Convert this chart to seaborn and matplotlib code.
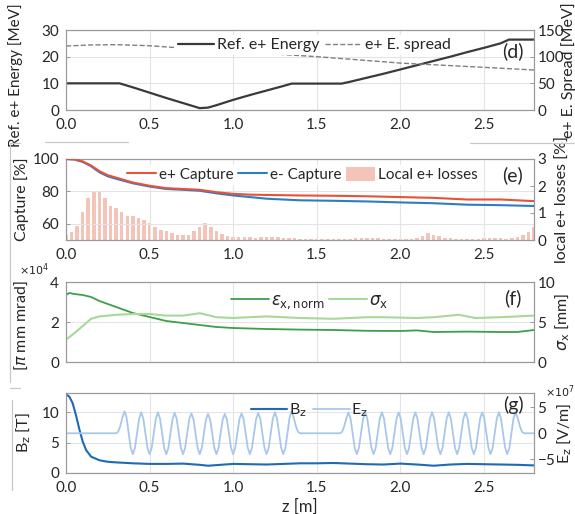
import matplotlib
matplotlib.use("Agg")
import matplotlib.pyplot as plt
from matplotlib.lines import Line2D
from matplotlib.patches import Rectangle, Patch
import seaborn as sns

# ---- (d) reference energy and energy spread ----
energy_z = [0, 0.32, 0.4, 0.5, 0.6, 0.7, 0.8, 0.85, 0.9, 1.0, 1.1, 1.2, 1.3, 1.35,
            1.65, 1.7, 1.8, 1.9, 2.0, 2.1, 2.2, 2.3, 2.4, 2.5, 2.6, 2.65, 2.8]
energy_mev = [10, 10, 8.5, 6.5, 4.5, 2.6, 0.7, 0.9, 1.8, 3.8, 5.6, 7.3, 9.0, 9.9,
              9.9, 10.6, 12.1, 13.6, 15.2, 16.8, 18.4, 20.0, 21.7, 23.3, 25.0, 26.4, 26.4]
spread_z = [0, 0.15, 0.3, 0.5, 0.75, 1.0, 1.25, 1.5, 1.75, 2.0, 2.25, 2.5, 2.8]
spread_mev = [120, 122, 122.5, 120.5, 115, 110, 105, 100, 94, 88, 84, 80, 75]

# ---- (e) capture and local losses ----
capture_z = [0, 0.05, 0.1, 0.15, 0.2, 0.25, 0.3, 0.4, 0.5, 0.6, 0.7, 0.8, 0.9, 1.0,
             1.1, 1.2, 1.4, 1.6, 1.8, 2.0, 2.2, 2.4, 2.6, 2.8]
pos_capture = [100, 99.8, 98.5, 96, 92.5, 90, 88.5, 85.5, 83.5, 82, 81.5, 81, 79.5, 78.5,
               78, 77.8, 77.5, 77.3, 77, 76.5, 76, 75, 75, 74]
ele_capture = [100, 99.7, 98.2, 95.5, 91.8, 89.3, 87.8, 85, 83, 81.5, 81, 80.4, 78.8, 77.5,
               76.5, 75.5, 74.5, 74.2, 73.8, 73.2, 72.7, 71.8, 71.5, 71]
loss_z = [0.000, 0.033, 0.067, 0.100, 0.133, 0.167, 0.200, 0.233, 0.267, 0.300,
          0.333, 0.367, 0.400, 0.433, 0.467, 0.500, 0.533, 0.567, 0.600, 0.633,
          0.667, 0.700, 0.733, 0.767, 0.800, 0.833, 0.867, 0.900, 0.933, 0.967,
          1.000, 1.033, 1.067, 1.100, 1.133, 1.167, 1.200, 1.233, 1.267, 1.300,
          1.333, 1.367, 1.400, 1.433, 1.467, 1.500, 1.533, 1.567, 1.600, 1.633,
          1.667, 1.700, 1.733, 1.767, 1.800, 1.833, 1.867, 1.900, 1.933, 1.967,
          2.000, 2.033, 2.067, 2.100, 2.133, 2.167, 2.200, 2.233, 2.267, 2.300,
          2.333, 2.367, 2.400, 2.433, 2.467, 2.500, 2.533, 2.567, 2.600, 2.633,
          2.667, 2.700, 2.733, 2.767, 2.800]
loss_pct = [0.17, 0.30, 0.53, 1.03, 1.54, 1.82, 1.78, 1.55, 1.26, 1.20,
            1.02, 0.90, 0.90, 0.80, 0.74, 0.62, 0.49, 0.38, 0.34, 0.26,
            0.17, 0.17, 0.17, 0.32, 0.48, 0.62, 0.50, 0.34, 0.22, 0.14,
            0.11, 0.10, 0.10, 0.10, 0.08, 0.12, 0.10, 0.12, 0.10, 0.08,
            0.07, 0.06, 0.05, 0.04, 0.04, 0.03, 0.03, 0.02, 0.02, 0.02,
            0.02, 0.04, 0.06, 0.08, 0.08, 0.07, 0.06, 0.05, 0.04, 0.04,
            0.03, 0.03, 0.03, 0.08, 0.15, 0.26, 0.20, 0.14, 0.08, 0.06,
            0.04, 0.04, 0.03, 0.04, 0.05, 0.06, 0.08, 0.08, 0.06, 0.05,
            0.06, 0.10, 0.18, 0.30, 0.48]

# ---- (f) emittance and beam size ----
emit_z = [0, 0.02, 0.05, 0.1, 0.15, 0.2, 0.25, 0.3, 0.4, 0.5, 0.6, 0.7, 0.8, 0.9,
          1.0, 1.2, 1.4, 1.6, 1.8, 2.0, 2.1, 2.2, 2.4, 2.6, 2.7, 2.8]
emit_1e4 = [3.35, 3.45, 3.4, 3.35, 3.25, 3.05, 2.9, 2.75, 2.45, 2.25, 2.05, 1.95, 1.85, 1.75,
            1.7, 1.65, 1.62, 1.6, 1.56, 1.55, 1.58, 1.5, 1.52, 1.5, 1.5, 1.6]
sigma_z = [0, 0.05, 0.1, 0.15, 0.2, 0.3, 0.4, 0.5, 0.6, 0.7, 0.8, 0.9, 1.0, 1.1, 1.2,
           1.4, 1.6, 1.8, 1.9, 2.1, 2.2, 2.35, 2.45, 2.6, 2.8]
sigma_mm = [2.8, 3.6, 4.5, 5.4, 5.7, 5.9, 6.0, 6.0, 5.8, 5.8, 6.1, 5.6, 5.5, 5.6, 5.7,
            5.5, 5.4, 5.6, 5.6, 5.5, 5.6, 5.9, 5.5, 5.6, 5.8]

# ---- (g) solenoid field and RF field ----
bz_z = [0, 0.02, 0.04, 0.06, 0.08, 0.10, 0.12, 0.15, 0.2, 0.25, 0.3, 0.4, 0.5, 0.6,
        0.7, 0.8, 0.85, 0.9, 1.0, 1.1, 1.2, 1.3, 1.4, 1.5, 1.6, 1.7, 1.8, 1.9, 2.0,
        2.1, 2.2, 2.3, 2.4, 2.5, 2.6, 2.7, 2.8]
bz_t = [13.0, 12.6, 11.5, 9.5, 7.2, 5.2, 3.8, 2.7, 2.1, 1.85, 1.75, 1.6, 1.5, 1.5,
        1.55, 1.35, 1.2, 1.3, 1.5, 1.45, 1.4, 1.5, 1.6, 1.6, 1.65, 1.55, 1.45, 1.4,
        1.55, 1.4, 1.2, 1.4, 1.5, 1.45, 1.4, 1.35, 1.25]
ez_z = [0.0,
        0.3000, 0.3125, 0.3250, 0.3375, 0.3500, 0.3625, 0.3750, 0.3875,
        0.4000, 0.4125, 0.4250, 0.4375, 0.4500, 0.4625, 0.4750, 0.4875,
        0.5000, 0.5125, 0.5250, 0.5375, 0.5500, 0.5625, 0.5750, 0.5875,
        0.6000, 0.6125, 0.6250, 0.6375, 0.6500, 0.6625, 0.6750, 0.6875,
        0.7000, 0.7125, 0.7250, 0.7375, 0.7500, 0.7625, 0.7750, 0.7875,
        0.8000, 0.8125, 0.8250, 0.8375, 0.8500, 0.8625, 0.8750, 0.8875,
        0.9000, 0.9125, 0.9250, 0.9375, 0.9500, 0.9625, 0.9750, 0.9875,
        1.0000, 1.0125, 1.0250, 1.0375, 1.0500, 1.0625, 1.0750, 1.0875,
        1.1000, 1.1125, 1.1250, 1.1375, 1.1500, 1.1625, 1.1750, 1.1875,
        1.2000, 1.2125, 1.2250, 1.2375, 1.2500, 1.2625, 1.2750, 1.2875,
        1.3000, 1.3125, 1.3250, 1.3375, 1.3500, 1.3625, 1.3750, 1.3875,
        1.4000,
        1.6400, 1.6525, 1.6650, 1.6775, 1.6900, 1.7025, 1.7150, 1.7275,
        1.7400, 1.7525, 1.7650, 1.7775, 1.7900, 1.8025, 1.8150, 1.8275,
        1.8400, 1.8525, 1.8650, 1.8775, 1.8900, 1.9025, 1.9150, 1.9275,
        1.9400, 1.9525, 1.9650, 1.9775, 1.9900, 2.0025, 2.0150, 2.0275,
        2.0400, 2.0525, 2.0650, 2.0775, 2.0900, 2.1025, 2.1150, 2.1275,
        2.1400, 2.1525, 2.1650, 2.1775, 2.1900, 2.2025, 2.2150, 2.2275,
        2.2400, 2.2525, 2.2650, 2.2775, 2.2900, 2.3025, 2.3150, 2.3275,
        2.3400, 2.3525, 2.3650, 2.3775, 2.3900, 2.4025, 2.4150, 2.4275,
        2.4400, 2.4525, 2.4650, 2.4775, 2.4900, 2.5025, 2.5150, 2.5275,
        2.5400, 2.5525, 2.5650, 2.5775, 2.5900, 2.6025, 2.6150, 2.6275,
        2.6400, 2.6525, 2.6650, 2.6775, 2.6900, 2.7025, 2.7150, 2.7275,
        2.7400,
        2.8]
ez_1e7 = [0.0,
          0, 0.3, 1.4, 3.0, 4.2, 3.0, 0, -2.8,
          -4.0, -2.8, 0, 2.8, 4.0, 2.8, 0, -2.8,
          -4.0, -2.8, 0, 2.8, 4.0, 2.8, 0, -2.8,
          -4.0, -2.8, 0, 2.75, 3.9, 2.75, 0, -2.8,
          -4.0, -2.8, 0, 2.7, 3.8, 2.7, 0, -2.8,
          -4.0, -2.8, 0, 2.6, 3.7, 2.6, 0, -2.8,
          -4.0, -2.8, 0, 2.6, 3.7, 2.6, 0, -2.8,
          -4.0, -2.8, 0, 2.7, 3.8, 2.7, 0, -2.8,
          -4.0, -2.8, 0, 2.75, 3.9, 2.75, 0, -2.8,
          -4.0, -2.8, 0, 2.8, 4.0, 2.8, 0, -2.8,
          -4.0, -2.8, 0, 3.0, 4.2, 3.0, 1.4, 0.3,
          0,
          0, 0.3, 1.4, 2.9, 4.0, 2.8, 0, -2.8,
          -4.0, -2.8, 0, 2.8, 4.0, 2.8, 0, -2.8,
          -4.0, -2.8, 0, 2.8, 4.0, 2.8, 0, -2.8,
          -4.0, -2.8, 0, 2.8, 4.0, 2.8, 0, -2.8,
          -4.0, -2.8, 0, 2.8, 4.0, 2.8, 0, -2.8,
          -4.0, -2.8, 0, 2.8, 4.0, 2.8, 0, -2.8,
          -4.0, -2.8, 0, 2.8, 4.0, 2.8, 0, -2.8,
          -4.0, -2.8, 0, 2.8, 4.0, 2.8, 0, -2.8,
          -4.0, -2.8, 0, 2.8, 4.0, 2.8, 0, -2.8,
          -4.0, -2.8, 0, 2.8, 4.0, 2.8, 0, -2.8,
          -4.0, -2.8, 0, 2.9, 4.0, 2.9, 1.4, 0.3,
          0,
          0.0]

x_ticks = [0, 0.5, 1, 1.5, 2, 2.5]

sns.set_theme(style="whitegrid")
plt.rcParams['font.family'] = ['Lato', 'DejaVu Sans']
plt.rcParams['mathtext.fontset'] = 'dejavusans'

TXT = '#262626'
SPINE = '#9a9a9a'
GRID = '#e4e4e4'

W, H = 575, 514
AX_L, AX_R = 66, 534
fig = plt.figure(figsize=(W / 100, H / 100), dpi=100)
fig.patch.set_facecolor('white')


def px_x(x):
    # figure pixel column -> axes fraction
    return (x - AX_L) / (AX_R - AX_L)


def make_axes(top_px, bottom_px):
    ax = fig.add_axes([AX_L / W, 1 - bottom_px / H, (AX_R - AX_L) / W, (bottom_px - top_px) / H])
    ax2 = ax.twinx()
    ax.set_xlim(0, 2.8)
    ax.set_xticks(x_ticks)
    ax.grid(True, color=GRID, linewidth=0.8)
    ax2.grid(False)
    for a in (ax, ax2):
        a.set_facecolor('none')
        for s in a.spines.values():
            s.set_color(SPINE)
            s.set_linewidth(0.8)
        a.tick_params(direction='in', length=3, width=0.7, color=SPINE,
                      labelsize=11, labelcolor=TXT)
    ax.tick_params(axis='x', pad=6)
    ax.tick_params(axis='y', pad=5)
    ax2.tick_params(axis='y', pad=2.5)
    ax.set_facecolor('white')
    return ax, ax2


def set_labels(ax, ax2, left, right, lx, rx, ly=0.5, size=11.5, lsize=None):
    ax.set_ylabel(left, fontsize=lsize or size, color=TXT, va='center')
    ax.yaxis.set_label_coords(px_x(lx), ly)
    ax2.set_ylabel(right, fontsize=size, color=TXT, rotation=90, va='center')
    ax2.yaxis.set_label_coords(px_x(rx), 0.5)


def panel_tag(ax, text, y):
    ax.text(0.955, y, text, transform=ax.transAxes, fontsize=14, color=TXT,
            ha='center', va='center', zorder=10)


# (d)
ax, ax2 = make_axes(30, 110)
sns.lineplot(x=energy_z, y=energy_mev, ax=ax, color='#3a3a3a', linewidth=1.6, sort=False)
sns.lineplot(x=spread_z, y=spread_mev, ax=ax2, color='#808080', linewidth=1.0, linestyle='--')
ax.set_ylim(0, 30)
ax.set_yticks([0, 10, 20, 30])
ax2.set_ylim(0, 150)
ax2.set_yticks([0, 50, 100, 150])
set_labels(ax, ax2, 'Ref. e+ Energy [MeV]', 'e+ E. Spread [MeV]', 16, 569, ly=0.44, lsize=11)
h = [Line2D([], [], color='#3a3a3a', lw=1.6), Line2D([], [], color='#808080', lw=1.0, ls='--')]
ax2.legend(h, ['Ref. e+ Energy', 'e+ E. spread'], loc='upper center', bbox_to_anchor=(0.53, 1.04),
           ncol=2, fontsize=11.5, frameon=True, facecolor='white', edgecolor='none', framealpha=1,
           handlelength=2.3, handletextpad=0.2, columnspacing=0.3, borderpad=0.2)
panel_tag(ax2, '(d)', 0.74)

# (e)
ax, ax2 = make_axes(159, 240)
ax2.bar(loss_z, loss_pct, width=0.021, color='#f5c4b8', linewidth=0)
sns.lineplot(x=capture_z, y=ele_capture, ax=ax, color='#2e7dc0', linewidth=1.5, zorder=3)
sns.lineplot(x=capture_z, y=pos_capture, ax=ax, color='#e6533c', linewidth=1.5, zorder=3)
ax.set_ylim(50, 100)
ax.set_yticks([60, 80, 100])
ax2.set_ylim(0, 3)
ax2.set_yticks([0, 1, 2, 3])
ax.set_zorder(2)
ax.set_facecolor('none')
set_labels(ax, ax2, 'Capture [%]', 'local e+ losses [%]', 22, 563)
h = [Line2D([], [], color='#e6533c', lw=1.5), Line2D([], [], color='#2e7dc0', lw=1.5),
     Patch(facecolor='#f5c4b8', edgecolor='none')]
leg = ax.legend(h, ['e+ Capture', 'e- Capture', 'Local e+ losses'], loc='upper center',
                bbox_to_anchor=(0.505, 1.02), ncol=3, fontsize=11, frameon=True,
                facecolor='white', edgecolor='none', framealpha=1,
                handlelength=1.9, handleheight=1.0, handletextpad=0.2, columnspacing=0.3,
                borderpad=0.15)
leg.set_zorder(2.5)
panel_tag(ax, '(e)', 0.8)

# (f)
ax, ax2 = make_axes(282, 362)
sns.lineplot(x=emit_z, y=emit_1e4, ax=ax, color='#3c9f4a', linewidth=1.3)
sns.lineplot(x=sigma_z, y=sigma_mm, ax=ax2, color='#a8d89a', linewidth=1.5)
ax.set_ylim(0, 4)
ax.set_yticks([0, 2, 4])
ax2.set_ylim(0, 10)
ax2.set_yticks([0, 5, 10])
ax.set_xticklabels([])
set_labels(ax, ax2, r'$\epsilon_{\rm n}$ [$\pi$ mm mrad]', r'$\sigma_{\rm x}$ [mm]', 22, 563,
           ly=0.33)
ax.text(px_x(34), 1.05, r'$\times10^4$', transform=ax.transAxes, fontsize=8, color=TXT,
        ha='center', va='bottom')
h = [Line2D([], [], color='#3c9f4a', lw=1.3), Line2D([], [], color='#a8d89a', lw=1.5)]
ax2.legend(h, [r'$\epsilon_{\rm x,norm}$', r'$\sigma_{\rm x}$'], loc='center',
           bbox_to_anchor=(0.52, 0.76), ncol=2, fontsize=12, frameon=False,
           handlelength=2.3, handletextpad=0.1, columnspacing=0.3)
panel_tag(ax2, '(f)', 0.8)

# (g)
ax, ax2 = make_axes(393, 473)
sns.lineplot(x=bz_z, y=bz_t, ax=ax, color='#1f6ab3', linewidth=1.5)
sns.lineplot(x=ez_z, y=ez_1e7, ax=ax2, color='#a9c7ea', linewidth=1.3, sort=False)
ax.set_ylim(0, 13.2)
ax.set_yticks([0, 5, 10])
ax2.set_ylim(-7.6, 7.7)
ax2.set_yticks([-5, 0, 5])
set_labels(ax, ax2, r'B$_{\rm z}$ [T]', r'E$_{\rm z}$ [V/m]', 24, 565)
ax.set_xlabel('z [m]', fontsize=12, color=TXT, labelpad=2)
ax2.text(px_x(560), 1.02, r'$\times10^7$', transform=ax2.transAxes, fontsize=8, color=TXT,
         ha='center', va='center')
h = [Line2D([], [], color='#1f6ab3', lw=1.5), Line2D([], [], color='#a9c7ea', lw=1.3)]
ax2.legend(h, [r'B$_{\rm z}$', r'E$_{\rm z}$'], loc='upper center', bbox_to_anchor=(0.52, 1.07),
           ncol=2, fontsize=11.5, frameon=False, handlelength=2.3, handletextpad=0.1,
           columnspacing=0.4)
panel_tag(ax2, '(g)', 0.85)


# leftover borders of the assembled sub-figures
def fig_line(x0, y0, x1, y1):
    fig.add_artist(Line2D([x0 / W, x1 / W], [1 - y0 / H, 1 - y1 / H], color='#c8c8c8',
                          lw=0.9, zorder=20))


fig.add_artist(Rectangle((0, 1 - 392 / H), 60 / W, 22 / H, transform=fig.transFigure,
                         facecolor='white', edgecolor='none', zorder=19))
fig_line(45, 142, 128, 142)
fig_line(470, 143, 575, 143)
fig_line(10, 143, 10, 382)
fig_line(10, 143, 20, 143)
fig_line(10, 388, 20, 388)
fig_line(12, 400, 12, 490)

fig.savefig('out.png', dpi=100)
